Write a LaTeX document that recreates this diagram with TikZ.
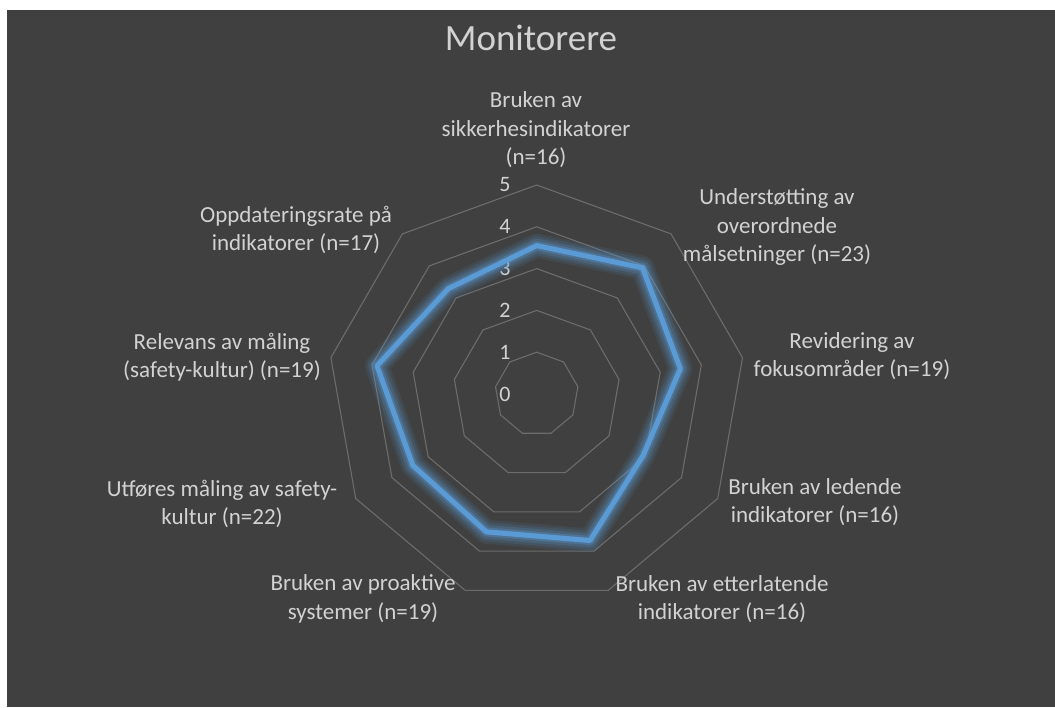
\documentclass[tikz,border=0pt]{standalone}
\usepackage{fontspec}
\setmainfont{Carlito}
\usetikzlibrary{calc}
\definecolor{chartbg}{RGB}{64,64,64}
\definecolor{gridgray}{RGB}{108,108,108}
\definecolor{labelgray}{RGB}{210,210,210}
\definecolor{seriesblue}{RGB}{91,155,213}

\begin{document}
\begin{tikzpicture}[x=1pt,y=-1pt,
    lbl/.style={text=labelgray, align=center, inner sep=0pt, font=\fontsize{23}{28.5}\selectfont},
    ticklbl/.style={text=labelgray, inner sep=0pt, font=\fontsize{22}{26}\selectfont},
    gridline/.style={draw=gridgray, line width=1.1pt},
    series/.style={draw=seriesblue, line width=5pt, line join=round}]

  \useasboundingbox (0,0) rectangle (1055,707);
  \fill[chartbg] (7,10) rectangle (1055,707);

  \coordinate (c) at (536.7,394);

  % Title
  \node[text=labelgray, inner sep=0pt, font=\fontsize{37}{44}\selectfont] (title) at (531,38) {Monitorere};

  % Grid
  \foreach \lev [evaluate=\lev as \r using \lev*41.8] in {1,...,5} {
    \draw[gridline] ($(c)+(-90:\r)$) \foreach \a in {-50,-10,...,230} { -- ($(c)+(\a:\r)$) } -- cycle;
  }
  \foreach \k in {0,...,5}
    \node[ticklbl] (tick\k) at (505,394-41.8*\k) {\k};

  % Series
  \foreach \v [count=\i] in {3.55,3.94,3.49,2.94,3.73,3.51,3.42,3.88,3.29}
    \coordinate (p\i) at ($(c)+(-130+40*\i:\v*41.8)$);
  \foreach \w/\o in {24/0.1,19/0.14,14/0.2,9/0.3}
    \draw[seriesblue, line width=\w pt, opacity=\o, line join=round]
      (p1) -- (p2) -- (p3) -- (p4) -- (p5) -- (p6) -- (p7) -- (p8) -- (p9) -- cycle;
  \draw[series] (p1) -- (p2) -- (p3) -- (p4) -- (p5) -- (p6) -- (p7) -- (p8) -- (p9) -- cycle;

  % Axis labels
  \node[lbl] (ax1) at (536,130) {Bruken av\\sikkerhesindikatorer\\(n=16)};
  \node[lbl] (ax2) at (777,227) {Understøtting av\\overordnede\\målsetninger (n=23)};
  \node[lbl] (ax3) at (852,356) {Revidering av\\fokusområder (n=19)};
  \node[lbl] (ax4) at (815,502) {Bruken av ledende\\indikatorer (n=16)};
  \node[lbl] (ax5) at (722,599) {Bruken av etterlatende\\indikatorer (n=16)};
  \node[lbl] (ax6) at (363,599) {Bruken av proaktive\\systemer (n=19)};
  \node[lbl] (ax7) at (222,504) {Utføres måling av safety-\\kultur (n=22)};
  \node[lbl] (ax8) at (222,357) {Relevans av måling\\(safety-kultur) (n=19)};
  \node[lbl] (ax9) at (296,230) {Oppdateringsrate på\\indikatorer (n=17)};
\end{tikzpicture}
\end{document}
